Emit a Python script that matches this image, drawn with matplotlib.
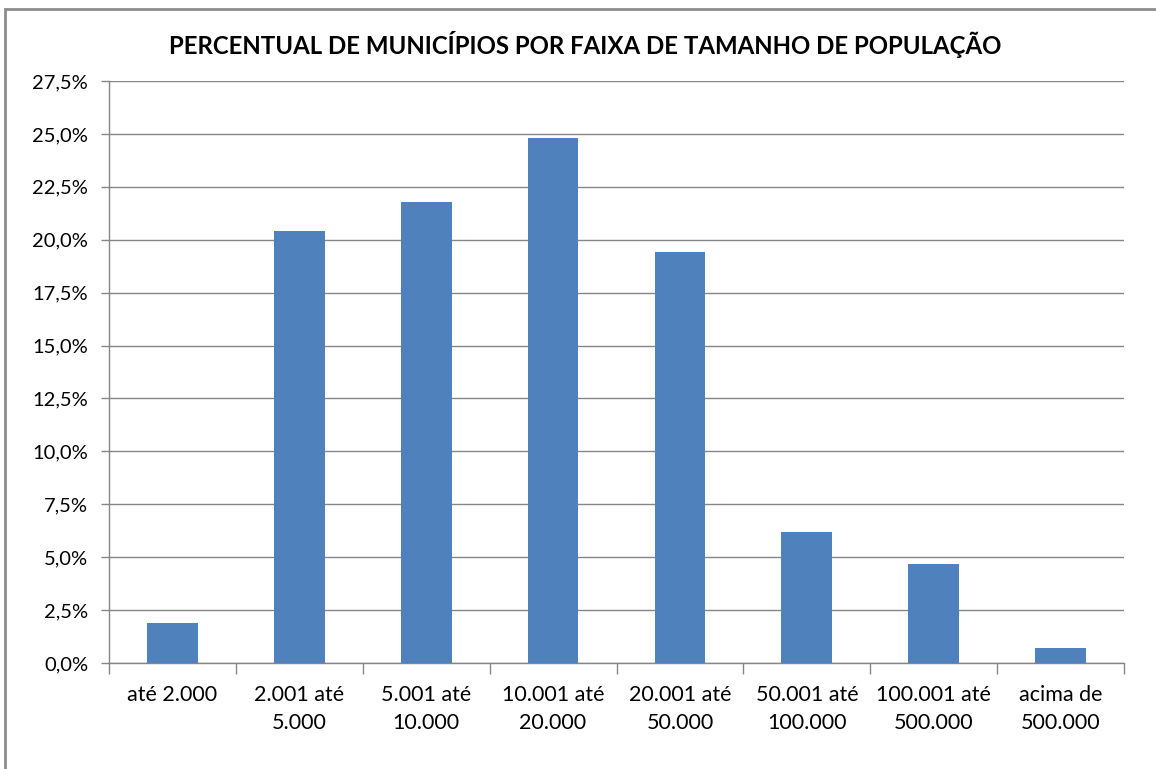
import matplotlib
matplotlib.use("Agg")
import matplotlib.pyplot as plt
from matplotlib.patches import Rectangle
from matplotlib.ticker import FuncFormatter, MultipleLocator

categories = ["até 2.000", "2.001 até\n5.000", "5.001 até\n10.000", "10.001 até\n20.000",
              "20.001 até\n50.000", "50.001 até\n100.000", "100.001 até\n500.000", "acima de\n500.000"]
values = [1.9, 20.4, 21.8, 24.8, 19.4, 6.2, 4.7, 0.7]
title = "PERCENTUAL DE MUNICÍPIOS POR FAIXA DE TAMANHO DE POPULAÇÃO"

plt.rcParams['font.family'] = ['Lato', 'DejaVu Sans']

fig = plt.figure(figsize=(11.56, 7.69), dpi=100)
ax = fig.add_axes([109/1156, (769-663)/769, (1124-109)/1156, (663-81)/769])

x = list(range(len(categories)))
ax.bar(x, values, width=0.4, color="#4F81BD", zorder=3)

ax.set_xlim(-0.5, len(categories) - 0.5)
ax.set_ylim(0, 27.5)
ax.yaxis.set_major_locator(MultipleLocator(2.5))
ax.yaxis.set_major_formatter(FuncFormatter(lambda v, p: f"{v:.1f}%".replace(".", ",")))
ax.grid(axis='y', color="#868686", linewidth=1, zorder=0)

ax.set_xticks(x)
ax.set_xticklabels(categories, fontsize=15.5, linespacing=1.5)
ax.set_xticks([i - 0.5 for i in range(len(categories) + 1)], minor=True)
ax.tick_params(axis='x', which='major', length=0, pad=16)
ax.tick_params(axis='x', which='minor', length=8, color="#868686", width=1)
ax.tick_params(axis='y', length=6, color="#868686", width=1, labelsize=14.5, pad=9)

for s in ['top', 'right']:
    ax.spines[s].set_visible(False)
for s in ['left', 'bottom']:
    ax.spines[s].set_color("#868686")
    ax.spines[s].set_linewidth(1)

fig.text(585/1156, 1 - 44/769, title, ha='center', va='center', fontsize=17.3, fontweight='bold')

fig.patches.append(Rectangle((5/1156, -0.1), 1.2, 1 - 9/769 + 0.1, transform=fig.transFigure,
                             fill=False, edgecolor="#8c8c8c", linewidth=2))

fig.savefig("out.png", dpi=100)
